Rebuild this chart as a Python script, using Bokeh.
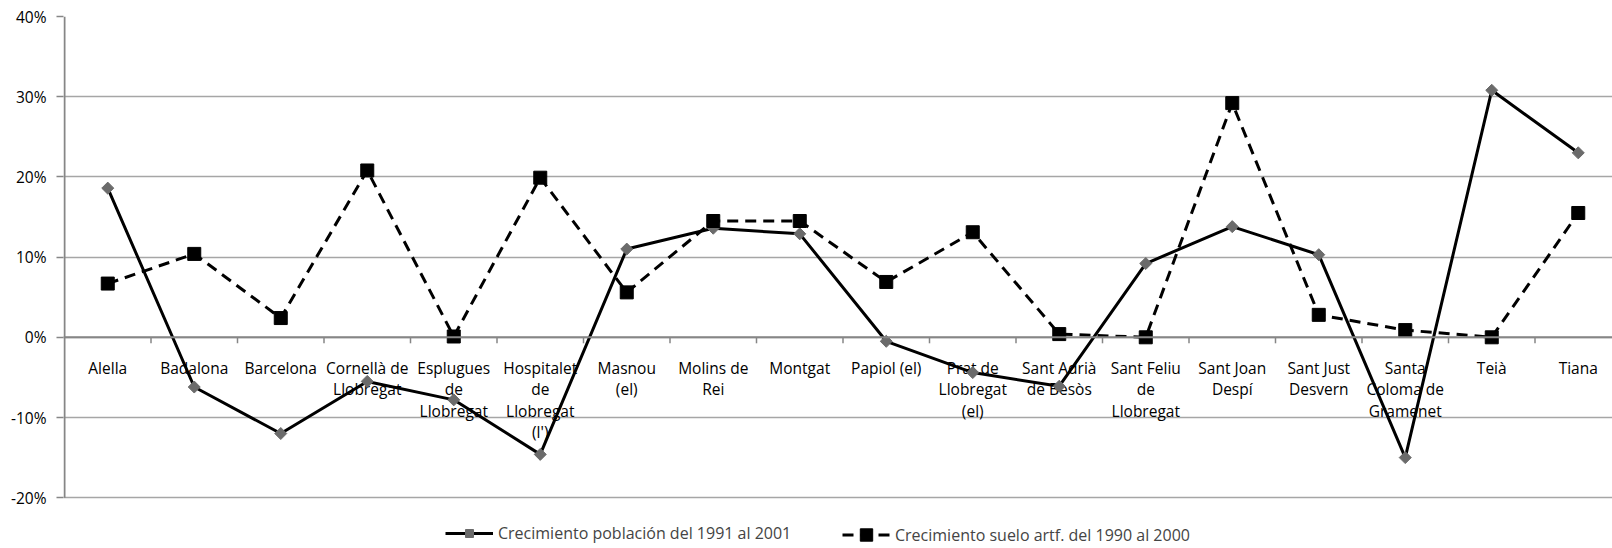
from math import pi
from bokeh.plotting import figure
from bokeh.models import (ColumnDataSource, Legend, LegendItem, Span,
                          NumeralTickFormatter, FixedTicker, Range1d)
from bokeh.core.properties import value
from bokeh.embed import file_html
from bokeh.resources import INLINE

# ---------------- data ----------------
municipios = ["Alella", "Badalona", "Barcelona", "Cornellà de Llobregat",
              "Esplugues de Llobregat", "Hospitalet de Llobregat (l')",
              "Masnou (el)", "Molins de Rei", "Montgat", "Papiol (el)",
              "Prat de Llobregat (el)", "Sant Adrià de Besòs",
              "Sant Feliu de Llobregat", "Sant Joan Despí", "Sant Just Desvern",
              "Santa Coloma de Gramenet", "Teià", "Tiana"]
etiquetas = ["Alella", "Badalona", "Barcelona", "Cornellà de\nLlobregat",
             "Esplugues\nde\nLlobregat", "Hospitalet\nde\nLlobregat\n(l')",
             "Masnou\n(el)", "Molins de\nRei", "Montgat", "Papiol (el)",
             "Prat de\nLlobregat\n(el)", "Sant Adrià\nde Besòs",
             "Sant Feliu\nde\nLlobregat", "Sant Joan\nDespí", "Sant Just\nDesvern",
             "Santa\nColoma de\nGramenet", "Teià", "Tiana"]
poblacion = [0.186, -0.062, -0.120, -0.055, -0.078, -0.146, 0.110, 0.136, 0.129,
             -0.005, -0.044, -0.061, 0.092, 0.138, 0.103, -0.150, 0.308, 0.230]
suelo = [0.067, 0.104, 0.024, 0.208, 0.001, 0.199, 0.056, 0.145, 0.145,
         0.069, 0.131, 0.004, 0.000, 0.292, 0.028, 0.009, 0.000, 0.155]
y_ticks = [-0.2, -0.1, 0.0, 0.1, 0.2, 0.3, 0.4]
serie_labels = ["Crecimiento población del 1991 al 2001",
                "Crecimiento suelo artf. del 1990 al 2000"]

n = len(municipios)
xc = [i + 0.5 for i in range(n)]
src = ColumnDataSource(dict(x=xc, pob=poblacion, suelo=suelo))

FONT = "Open Sans"
AX = "#868686"

# ---------------- layout (pixels) ----------------
W, H = 1612, 548
border_left, border_top = 63, 16
px_per_cat = 86.5
px_per_unit = 802.0          # pixels per 100 %
frame_w = W - border_left
frame_h = H - border_top
ymin, ymax = y_ticks[0], y_ticks[-1]
x0 = -1.0 / px_per_cat
y_lo = ymax - frame_h / px_per_unit   # frame extends below -20 % to host legend

LABEL_FIRST = 30.5   # px below the 0 line (centre of first text line)
LABEL_STEP = 21.5    # px between text lines

# one text row per label line
lx, ly, lt, loff = [], [], [], []
for i, lab in enumerate(etiquetas):
    for j, part in enumerate(lab.split("\n")):
        lx.append(xc[i]); ly.append(0.0); lt.append(part)
        loff.append(LABEL_FIRST + j * LABEL_STEP)
lab_src = ColumnDataSource(dict(x=lx, y=ly, t=lt, off=loff))

p = figure(width=W, height=H, output_backend="svg", toolbar_location=None,
           x_range=Range1d(x0, x0 + frame_w / px_per_cat),
           y_range=Range1d(y_lo, ymax),
           x_axis_location=None, min_border_left=border_left, min_border_right=0,
           min_border_top=border_top, min_border_bottom=0)
p.outline_line_color = None
p.xgrid.visible = False
p.ygrid.grid_line_color = "#a6a6a6"
p.ygrid.grid_line_width = 1.5
p.ygrid.ticker = FixedTicker(ticks=y_ticks)

ya = p.yaxis[0]
ya.ticker = FixedTicker(ticks=y_ticks)
ya.formatter = NumeralTickFormatter(format="0%")
ya.axis_line_color = None
ya.major_tick_line_color = AX
ya.major_tick_line_width = 1.5
ya.major_tick_out = 7
ya.major_tick_in = 0
ya.minor_tick_line_color = None
ya.major_label_standoff = 10
ya.major_label_text_font = FONT
ya.major_label_text_font_size = "15.5px"
ya.major_label_text_color = "#000000"

# vertical axis line from -20 % to 40 %
p.segment(x0=[0], x1=[0], y0=[ymin], y1=[ymax], line_color=AX, line_width=2)

# horizontal axis line at 0
p.add_layout(Span(location=0, dimension="width", line_color=AX, line_width=2))

# category tick marks (between categories), 6 px downward
tick_len = 6 / px_per_unit
bounds = list(range(1, n))
p.segment(x0=bounds, x1=bounds, y0=[0] * len(bounds), y1=[-tick_len] * len(bounds),
          line_color=AX, line_width=1.5)

# category labels
p.text(x="x", y="y", text="t", source=lab_src, y_offset="off",
       text_font=value(FONT), text_font_size="15.5px", text_align="center",
       text_baseline="middle", text_color="#000000")

# series
l1 = p.line("x", "pob", source=src, line_color="#000000", line_width=3)
m1 = p.scatter("x", "pob", source=src, marker="square", angle=pi / 4, size=8.5,
               fill_color="#6b6b6b", line_color="#6b6b6b")
l2 = p.line("x", "suelo", source=src, line_color="#000000", line_width=3,
            line_dash="11 7")
m2 = p.scatter("x", "suelo", source=src, marker="square", size=13,
               fill_color="#000000", line_color="#000000")

common = dict(orientation="horizontal", padding=0, margin=0, glyph_width=48,
              label_standoff=5, label_text_font=FONT, label_text_font_size="16px",
              border_line_color=None, background_fill_alpha=0)
legend1 = Legend(items=[LegendItem(label=serie_labels[0], renderers=[l1, m1])],
                 location=(445 - border_left, 4), glyph_height=20, label_height=20,
                 **common)
legend2 = Legend(items=[LegendItem(label=serie_labels[1], renderers=[l2, m2])],
                 location=(842 - border_left, -2), glyph_height=31, label_height=31,
                 **common)
p.add_layout(legend1)
p.add_layout(legend2)

open("out.html", "w").write(file_html(p, INLINE))
